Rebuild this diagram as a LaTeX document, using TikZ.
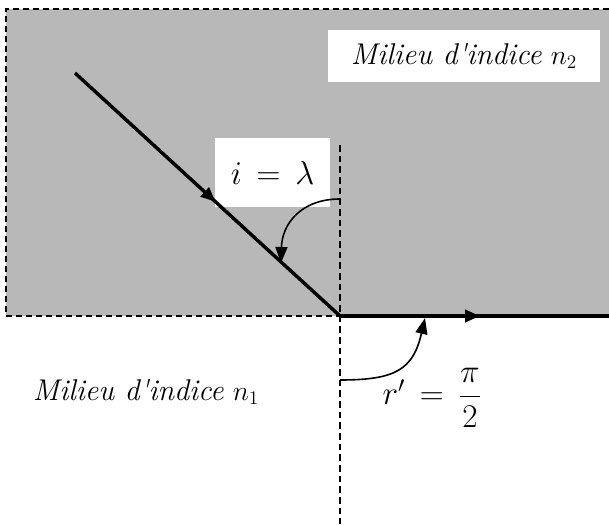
\documentclass[tikz,border=0pt]{standalone}
\usetikzlibrary{arrows.meta,decorations.markings}
\begin{document}
\begin{tikzpicture}[x=0.75pt,y=-0.75pt,
  medium/.style={fill=black!28,draw=none},
  border/.style={black,line width=1.7pt,dash pattern=on 4.5pt off 3pt},
  normal/.style={black,line width=1pt,dash pattern=on 5pt off 3pt},
  ray/.style={black,line width=2.6pt},
  midarrow/.style={postaction={decorate},decoration={markings,mark=at position #1 with {\arrow{Triangle[length=11pt,width=9pt]}}}},
  anglearrow/.style={black,line width=1.2pt,-{Triangle[length=12pt,width=9pt]}},
  lbl/.style={inner sep=0pt,font=\fontsize{22.5}{27}\selectfont},
  whitebox/.style={fill=white,draw=none}]
\useasboundingbox (0,0) rectangle (609,524);
% medium n2
\fill[medium] (6,9) rectangle (609,316);
\coordinate (tl) at (6,9);
\coordinate (tr) at (609,9);
\coordinate (bl) at (6,316);
\coordinate (I) at (340,316);
\coordinate (R) at (609,316);
\draw[border] (tr) -- (tl) -- (bl) -- (I);
% label boxes
\node[whitebox,minimum width=115*0.75pt,minimum height=69*0.75pt] (ibox) at (272.5,172.5) {};
\node[whitebox,minimum width=272*0.75pt,minimum height=52*0.75pt] (n2box) at (464,56) {};
\node[inner sep=0pt,font=\fontsize{25}{30}\selectfont] (ilabel) at (ibox.center) {$i\,=\,\lambda$};
\node[lbl] (n2label) at (n2box.center) {\textit{Milieu d\textquotesingle indice} $n_2$};
\node[lbl] (n1label) at (146,392) {\textit{Milieu d\textquotesingle indice} $n_1$};
% normal
\coordinate (Ntop) at (340,145);
\coordinate (Nbot) at (340,524);
\draw[normal] (Ntop) -- (Nbot);
% rays
\coordinate (S) at (75,73);
\draw[ray,midarrow=0.53] (S) -- (I);
\draw[ray,midarrow=0.52] (I) -- (R);
% angle arrows
\coordinate (a1) at (340,199);
\coordinate (a2) at (281,263);
\draw[anglearrow] (a1) .. controls (300,199) and (282,225) .. (a2);
\coordinate (b1) at (340,380);
\coordinate (b2) at (425,318);
\draw[anglearrow] (b1) .. controls (395,380) and (413,370) .. (b2);
\node[inner sep=0pt,font=\fontsize{26}{30}\selectfont] (rlabel) at (432,398) {$r'\,=\,\displaystyle\frac{\pi}{2}$};
\end{tikzpicture}
\end{document}
